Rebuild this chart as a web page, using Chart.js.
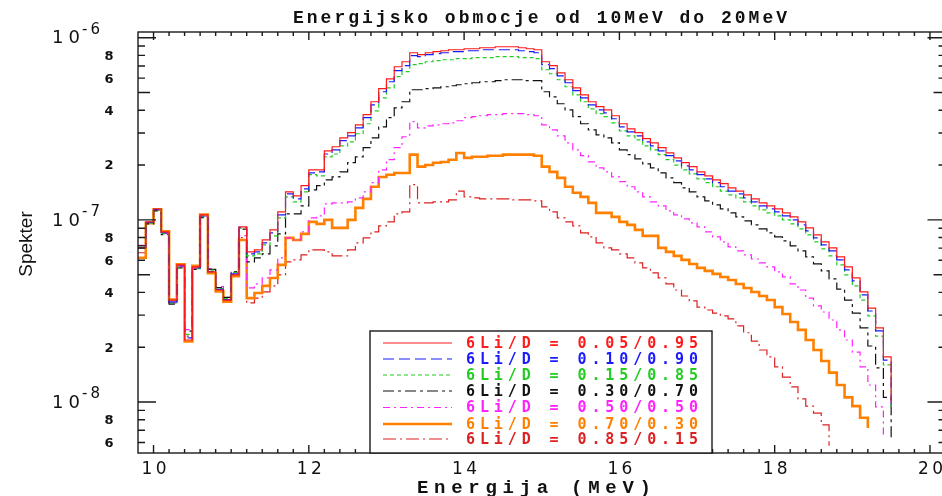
<!DOCTYPE html>
<html>
<head>
<meta charset="utf-8">
<title>Energijsko obmocje od 10MeV do 20MeV</title>
<script src="https://cdn.jsdelivr.net/npm/chart.js@4.4.1/dist/chart.umd.min.js"></script>
<style>
  html, body { margin: 0; padding: 0; background: #fff; overflow: hidden; }
  #wrap { width: 946px; height: 496px; }
</style>
</head>
<body>
<div id="wrap"><canvas id="spekter" width="946" height="496"></canvas></div>
<script>
// histogram: bini po 0.1 MeV od 9.8 MeV naprej, vrednosti v enotah 1e-9
const binStart = 9.8;
const binWidth = 0.1;
const unit = 1e-9;

const li05 = [
  70.2, 97.5, 115, 85.9, 36.3, 56.6, 21.9, 55.2, 106.5, 51.8, 41.2, 36.3, 49.9, 91.5,
  66.7, 68.4, 77.6, 88.1, 110.6, 142.5, 135.5, 154, 188, 188, 239, 252, 282, 301, 332, 378, 445, 525, 595, 693, 738, 827,
  807, 827, 838, 848, 859, 859, 870, 870, 881, 881, 892, 892, 892, 881, 870, 859,
  738, 702, 642, 588, 531, 486, 445, 418, 402, 373, 337, 316, 301, 279, 265, 249, 233, 219, 206, 196,
  183.5, 174.5, 166, 158, 150, 144, 137, 130.4, 124, 119.4, 115, 109.3, 103.9, 97.5, 90.4, 82.7, 75.7, 70.2, 62.6, 55.2,
  48.0, 40.2, 32.8, 25.5, 17.7, 9.9
];
const li10 = [
  70.5, 97, 114, 85, 35.5, 56, 22.5, 54.5, 105, 52, 41.5, 36.5, 50.5, 91,
  65.0, 66.7, 74.7, 84.8, 106.5, 139, 130.4, 148, 181, 183.5, 230, 242, 272, 289, 320, 364, 428, 505, 573, 659, 702, 797,
  787, 807, 817, 827, 838, 838, 848, 848, 859, 859, 859, 859, 859, 848, 838, 827,
  711, 676, 618, 566, 512, 468, 428, 402, 387, 359, 324, 304, 289, 268, 255, 239, 225, 211, 198, 188,
  177, 168, 160, 152, 144, 139, 132, 125.6, 119.4, 115, 110.6, 105.2, 100, 93.9, 87.0, 79.6, 72.9, 67.6, 60.3, 53.1,
  46.2, 38.7, 31.6, 24.6, 17.0, 9.6
];
const li15 = [
  71, 96, 113, 84, 35, 55, 23.5, 54, 104, 53, 42, 37, 51.5, 90,
  63.4, 65.0, 72.9, 81.7, 102.6, 133.7, 125.6, 142.5, 177, 174.5, 222, 230, 255, 268, 297, 337, 397, 468, 531, 611, 651, 711,
  720, 738, 748, 757, 757, 767, 767, 777, 777, 777, 787, 787, 787, 777, 777, 767,
  667, 634, 588, 538, 486, 445, 407, 383, 369, 341, 308, 289, 275, 255, 242, 228, 214, 200, 188, 179,
  168, 160, 152, 144, 137, 132, 125.6, 119.4, 113.5, 109.3, 105.2, 100, 95.1, 89.2, 82.7, 75.7, 69.3, 63.4, 56.6, 49.9,
  43.4, 36.3, 29.7, 23.0, 16.0, 9.4
];
const li30 = [
  72, 95, 112, 83, 34.5, 54.5, 24.5, 53.5, 103, 53.5, 42.5, 37.5, 52, 89,
  58.8, 61.8, 65.0, 72.0, 83.8, 107.9, 107.9, 119.4, 146, 154, 166, 172, 183.5, 206, 222, 249, 282, 324, 364, 412, 445, 518,
  518, 525, 531, 538, 545, 552, 559, 566, 573, 573, 581, 588, 588, 588, 581, 581,
  505, 474, 434, 402, 369, 337, 312, 293, 282, 265, 242, 228, 216, 203, 193, 181, 170, 160, 150, 142.5,
  133.7, 127.2, 121, 115, 109.3, 103.9, 98.7, 93.9, 89.2, 84.8, 80.6, 76.7, 72.0, 67.6, 62.6, 57.3, 52.5, 47.4, 41.7, 36.3,
  30.8, 25.5, 20.3, 15.4, 10.6, 6.1
];
const li50 = [
  72.5, 96.5, 113, 84, 35, 55.5, 25, 54, 104, 54, 43, 37.5, 51.5, 82,
  42.3, 44.5, 48.0, 53.1, 61.8, 79.6, 77.6, 85.9, 102.6, 105.2, 122.5, 124, 124, 125.6, 132, 142.5, 160, 188, 214, 249, 286, 346,
  320, 328, 332, 337, 341, 350, 364, 369, 373, 378, 378, 383, 383, 383, 378, 373,
  332, 312, 289, 265, 242, 225, 208, 193, 183.5, 172, 162, 152, 142.5, 133.7, 125.6, 119.4, 112, 106.5, 101.3, 96.3,
  91.5, 85.9, 80.6, 75.7, 71.1, 67.6, 64.2, 61.0, 58.0, 55.2, 51.8, 48.6, 44.5, 41.2, 37.2, 33.7, 31.2, 28.2, 24.9, 21.9,
  18.8, 15.6, 12.4, 9.4, 6.4
];
const li70 = [
  62, 96, 114, 86.5, 36.5, 57, 21.5, 56, 107, 51, 40.5, 35.5, 49, 77.6,
  37.2, 39.7, 43.4, 48.0, 56.6, 79.6, 77.6, 83.8, 97.5, 95.1, 100, 90.4, 90.4, 100, 116.4, 130.4, 152, 172, 177, 181, 181, 228,
  196, 200, 206, 208, 214, 233, 219, 222, 222, 225, 225, 228, 228, 228, 228, 225,
  196, 183.5, 170, 152, 141, 133.7, 124, 109.3, 109.3, 103.9, 97.5, 93.9, 88.1, 81.7, 81.7, 70.2, 66.7, 63.4, 60.3, 57.3,
  54.5, 52.5, 50.5, 48.6, 46.8, 44.5, 42.3, 40.2, 38.2, 36.3, 33.2, 30.4, 27.5, 24.9, 21.9, 19.3, 16.8, 14.5, 12.4, 10.6,
  9.5, 8.2, 7.2
];
const li85 = [
  66, 97, 114, 85, 35, 56, 23, 54.5, 105, 52, 41, 36, 50, 80,
  35.0, 37.2, 40.2, 43.4, 49.9, 58.8, 60.3, 64.2, 68.4, 68.4, 66.7, 63.4, 63.4, 68.4, 74.7, 79.6, 85.9, 92.7, 97.5, 107.9, 110.6, 156,
  124, 124, 125.6, 125.6, 128.8, 144, 133.7, 132, 130.4, 130.4, 130.4, 130.4, 128.8, 128.8, 128.8, 127.2,
  118, 110.6, 102.6, 97.5, 92.7, 84.8, 80.6, 74.7, 70.2, 68.4, 65.0, 61.8, 58.0, 54.5, 51.2, 48.0, 44.5, 41.2, 38.2, 35.9,
  33.2, 32.0, 30.8, 29.7, 28.6, 26.2, 24.0, 21.6, 19.3, 17.7, 15.6, 13.7, 12.1, 10.4, 9.5, 8.7, 7.5, 5.75
];

const seriesLabels = [
  '6Li/D = 0.05/0.95', '6Li/D = 0.10/0.90', '6Li/D = 0.15/0.85', '6Li/D = 0.30/0.70',
  '6Li/D = 0.50/0.50', '6Li/D = 0.70/0.30', '6Li/D = 0.85/0.15'
];
const xTickLabels = [10, 12, 14, 16, 18, 20];
const yMinorLabels = [2, 4, 6, 8];

const slogi = [
  { color: '#ff1a1a', dash: [],              width: 1.2 },
  { color: '#1a1aff', dash: [11, 5],         width: 1.2 },
  { color: '#22cc22', dash: [4, 3],          width: 1.2 },
  { color: '#111111', dash: [11, 4, 3, 4],   width: 1.2 },
  { color: '#ff22ff', dash: [7, 4, 2, 4],    width: 1.2 },
  { color: '#ff8000', dash: [],              width: 2.6 },
  { color: '#dd2020', dash: [13, 4, 2, 4],   width: 1.2 }
];

// točke na levih robovih binov, zadnji prazen bin pade na dno
function histogram(vals) {
  const pts = vals.map((v, i) => ({ x: binStart + i * binWidth, y: v * unit }));
  pts.push({ x: binStart + vals.length * binWidth, y: 0 });
  return pts;
}

const serije = [li05, li10, li15, li30, li50, li70, li85];
const datasets = serije.map((vals, i) => ({
  label: seriesLabels[i],
  data: histogram(vals),
  borderColor: slogi[i].color,
  borderWidth: slogi[i].width,
  borderDash: slogi[i].dash,
  stepped: true,
  pointRadius: 0,
  fill: false
}));

// razporedi znake med x0 in x1 (stari HIGZ fonti so zelo razmaknjeni)
function spaced(ctx, text, x0, x1, yc) {
  const chars = [...text];
  const widths = chars.map(c => ctx.measureText(c).width);
  const natural = widths.reduce((s, w) => s + w, 0);
  const gap = chars.length > 1 ? ((x1 - x0) - natural) / (chars.length - 1) : 0;
  let cx = x0;
  ctx.textAlign = 'left';
  ctx.textBaseline = 'middle';
  chars.forEach((c, i) => {
    ctx.fillText(c, cx, yc);
    cx += widths[i] + gap;
  });
}

const okvir = {
  id: 'okvir',
  afterDraw(chart) {
    const { ctx, chartArea: a } = chart;
    const xs = chart.scales.x, ys = chart.scales.y;
    ctx.save();

    // okvir in oznake
    ctx.strokeStyle = '#1a1a1a';
    ctx.lineWidth = 1.4;
    ctx.beginPath();
    for (let t = 100; t <= 200; t += 2) {
      const px = xs.getPixelForValue(t / 10);
      const len = t % 20 === 0 ? 8 : 4;
      ctx.moveTo(px, a.bottom); ctx.lineTo(px, a.bottom - len);
      ctx.moveTo(px, a.top); ctx.lineTo(px, a.top + len);
    }
    for (let d = -9; d <= -6; d++) {
      for (let m = 1; m <= 9; m++) {
        const v = m * Math.pow(10, d);
        if (v < ys.min || v > ys.max) continue;
        const py = ys.getPixelForValue(v);
        const len = m === 1 ? 18 : (m === 5 ? 12 : 7);
        ctx.moveTo(a.left, py); ctx.lineTo(a.left + len, py);
        ctx.moveTo(a.right, py); ctx.lineTo(a.right - len, py);
      }
    }
    ctx.stroke();
    ctx.strokeRect(a.left, a.top, a.right - a.left, a.bottom - a.top);

    ctx.fillStyle = '#111';
    // x oznake
    ctx.font = '17px "DejaVu Sans"';
    xTickLabels.forEach(v => {
      const px = xs.getPixelForValue(v);
      spaced(ctx, String(v), px - 12, px + 13, 470);
    });
    // y oznake
    for (let d = -8; d <= -6; d++) {
      const py = ys.getPixelForValue(Math.pow(10, d));
      ctx.font = '18px "DejaVu Sans"';
      spaced(ctx, '10', 52, 80, py + 1);
      ctx.font = '15px "DejaVu Sans"';
      spaced(ctx, '-' + String(-d), 82, 100, py - 8);
    }
    ctx.font = 'bold 13px "DejaVu Sans"';
    for (let d = -9; d <= -7; d++) {
      yMinorLabels.forEach(m => {
        const v = m * Math.pow(10, d);
        if (v < ys.min || v > ys.max) return;
        ctx.textAlign = 'center';
        ctx.textBaseline = 'middle';
        ctx.fillText(String(m), 109, ys.getPixelForValue(v) + 1);
      });
    }

    // naslov in osi
    ctx.font = 'bold 18px "Liberation Mono"';
    spaced(ctx, 'Energijsko obmocje od 10MeV do 20MeV', 293, 787, 18);
    ctx.font = 'bold 19px "Liberation Mono"';
    spaced(ctx, 'Energija (MeV)', 417, 651, 488);
    ctx.save();
    ctx.translate(27, 244);
    ctx.rotate(-Math.PI / 2);
    ctx.font = '19px "Liberation Sans"';
    ctx.textAlign = 'center';
    ctx.textBaseline = 'middle';
    ctx.fillText('Spekter', 0, 0);
    ctx.restore();

    // legenda
    const lx0 = 370, lx1 = 712, ly0 = 331, ly1 = a.bottom;
    ctx.fillStyle = '#fff';
    ctx.fillRect(lx0, ly0, lx1 - lx0, ly1 - ly0);
    ctx.strokeStyle = '#1a1a1a';
    ctx.lineWidth = 1.4;
    ctx.strokeRect(lx0, ly0, lx1 - lx0, ly1 - ly0);
    const rows = [343, 359, 375, 391, 407.5, 424, 439];
    ctx.font = 'bold 15px "DejaVu Sans Mono"';
    chart.data.datasets.forEach((ds, i) => {
      const ry = rows[i];
      ctx.strokeStyle = ds.borderColor;
      ctx.lineWidth = ds.borderWidth;
      ctx.setLineDash(ds.borderDash);
      ctx.beginPath();
      ctx.moveTo(383, ry);
      ctx.lineTo(452, ry);
      ctx.stroke();
      ctx.setLineDash([]);
      ctx.fillStyle = ds.borderColor;
      spaced(ctx, ds.label, 466, 698, ry + 1);
    });
    ctx.restore();
  }
};

new Chart(document.getElementById('spekter'), {
  type: 'line',
  data: { datasets },
  options: {
    responsive: false,
    devicePixelRatio: 1,
    animation: false,
    layout: { padding: { left: 138, top: 32, right: 0.5, bottom: 43 } },
    plugins: { legend: { display: false }, tooltip: { enabled: false }, title: { display: false } },
    scales: {
      x: { type: 'linear', min: 9.8, max: 20.2, display: false },
      y: { type: 'logarithmic', min: 5.25e-9, max: 1.075e-6, display: false }
    }
  },
  plugins: [okvir]
});
</script>
</body>
</html>
